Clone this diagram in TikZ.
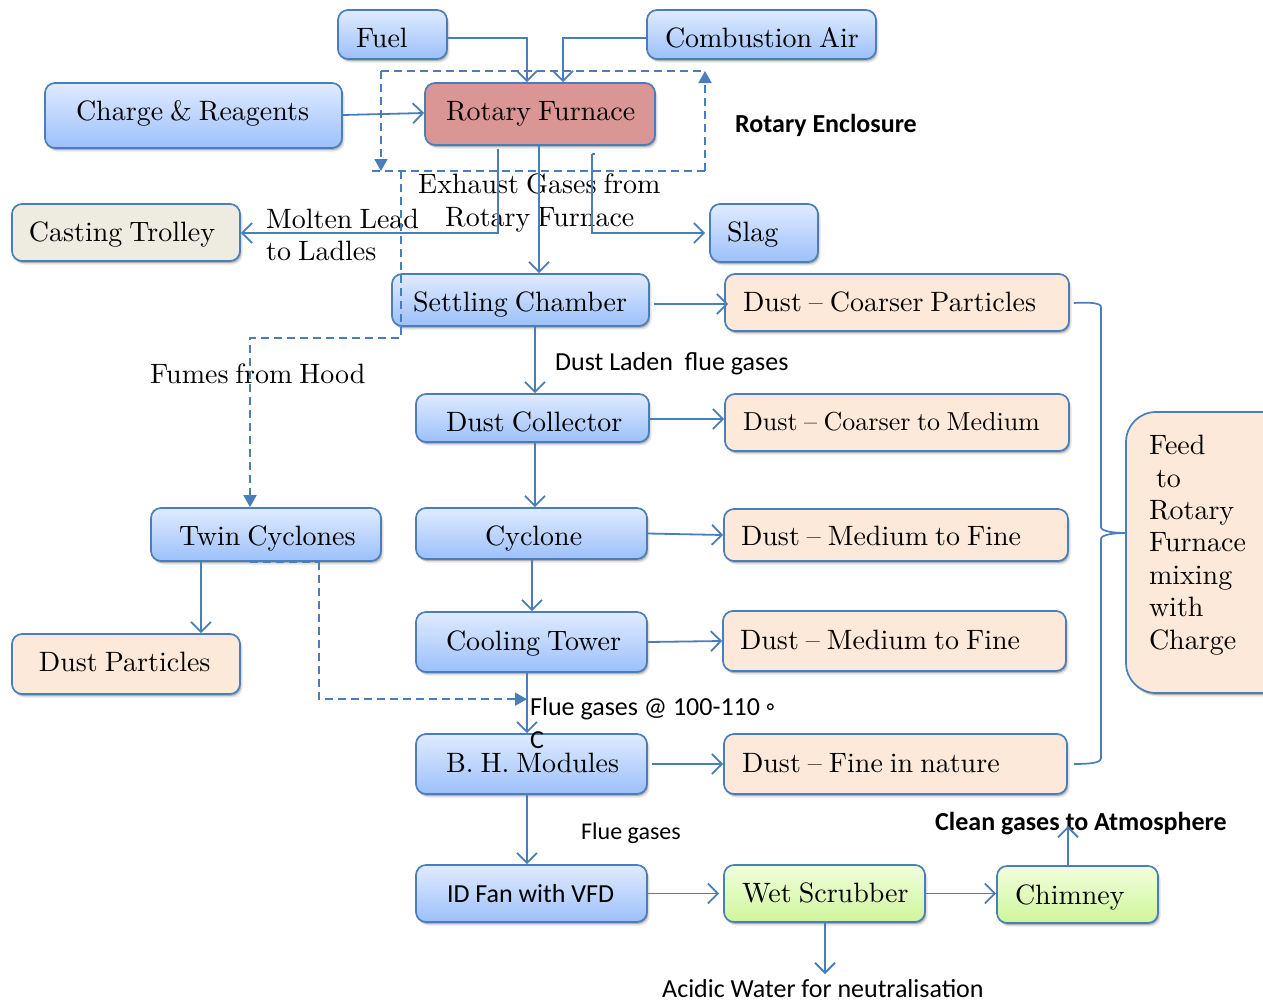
\documentclass[tikz,border=0pt]{standalone}
\usepackage{fontspec}
\setmainfont{lmroman10-regular}[Extension=.otf,WordSpace=0.75]
\newfontfamily\calf{Carlito}
\usetikzlibrary{arrows.meta,shadows}
\definecolor{ln}{HTML}{4A7EBB}
\newcommand\bx[8]{%
  \pgfmathsetmacro\bxW{#5-#3}\pgfmathsetmacro\bxA{#7-#4}\pgfmathsetmacro\bxB{#6-#7}%
  \node[#2,text width=\bxW pt,text height=\bxA pt,text depth=\bxB pt] (#1) at ({(#3+#5)/2},{(#4+#6)/2})%
}
\tikzset{
  x=1pt,y=-1pt,
  boxbase/.style={draw=ln,line width=1.7pt,rounded corners=10pt,inner sep=0pt,align=left,
    drop shadow={shadow xshift=2.5pt,shadow yshift=-3.5pt,fill=black,opacity=.1},
    drop shadow={shadow xshift=1.2pt,shadow yshift=-2pt,fill=black,opacity=.22},
    font=\fontsize{28}{33}\selectfont},
  bluebox/.style={boxbase,top color={rgb,255:red,224;green,235;blue,255},bottom color={rgb,255:red,156;green,192;blue,250}},
  redbox/.style={boxbase,fill={rgb,255:red,217;green,150;blue,148}},
  greybox/.style={boxbase,fill={rgb,255:red,238;green,236;blue,225}},
  peachbox/.style={boxbase,fill={rgb,255:red,253;green,233;blue,217}},
  greenbox/.style={boxbase,top color={rgb,255:red,241;green,255;blue,220},bottom color={rgb,255:red,207;green,245;blue,155}},
  con/.style={draw=ln,line width=1.8pt,-{Straight Barb[length=10pt,width=20pt,line width=1.8pt]}},
  plainln/.style={draw=ln,line width=1.7pt},
  dsh/.style={draw=ln,line width=1.8pt,dash pattern=on 8pt off 5pt},
  dar/.style={dsh,-{Triangle[length=12pt,width=13pt,fill=ln]}},
  lab/.style={anchor=base west,inner sep=0pt,font=\fontsize{28}{33}\selectfont,align=left},
  calt/.style={anchor=base west,inner sep=0pt,font=\calf\fontsize{26}{30}\selectfont},
  calb/.style={anchor=base west,inner sep=0pt,font=\calf\bfseries\fontsize{26}{30}\selectfont},
}
\newcommand\tx[2]{\spaceskip=0pt\relax\xspaceskip=0pt\relax\hspace*{#1pt}\mbox{#2}}
\begin{document}
\begin{tikzpicture}
\useasboundingbox (0,0) rectangle (1263,999);
\clip (0,0) rectangle (1263,999);
\bx{fuel}{bluebox}{338}{10}{447}{59}{47}{} {\tx{18}{Fuel}};
\bx{air}{bluebox}{647}{10}{876}{59}{47}{} {\tx{18}{Combustion Air}};
\bx{charge}{bluebox}{45}{83}{342}{148}{120}{} {\tx{31}{Charge \& Reagents}};
\bx{rf}{redbox}{425}{83}{655}{145}{120}{} {\tx{21}{Rotary Furnace}};
\bx{cast}{greybox}{12}{204}{240}{261}{241}{} {\tx{17}{Casting Trolley}};
\bx{slag}{bluebox}{710}{204}{818}{262}{241}{} {\tx{17}{Slag}};
\bx{settle}{bluebox}{392}{274}{649}{326}{311}{} {\tx{21}{Settling Chamber}};
\bx{d1}{peachbox}{725}{274}{1069}{331}{311}{} {\tx{18}{Dust -- Coarser Particles}};
\bx{coll}{bluebox}{416}{394}{649}{442}{431}{} {\tx{30}{Dust Collector}};
\bx{d2}{peachbox}{725}{394}{1069}{451}{430}{} {\fontsize{26}{30}\selectfont\tx{18}{Dust -- Coarser to Medium}};
\bx{cyc}{bluebox}{416}{508}{647}{559}{545}{} {\tx{69}{Cyclone}};
\bx{d3}{peachbox}{724}{509}{1068}{561}{545}{} {\tx{17}{Dust -- Medium to Fine}};
\bx{twin}{bluebox}{151}{508}{381}{561}{545}{} {\tx{28}{Twin Cyclones}};
\bx{dp}{peachbox}{12}{634}{240}{694}{671}{} {\tx{27}{Dust Particles}};
\bx{cool}{bluebox}{416}{612}{647}{672}{650}{} {\tx{30}{Cooling Tower}};
\bx{d4}{peachbox}{723}{611}{1066}{671}{649}{} {\tx{17}{Dust -- Medium to Fine}};
\bx{bh}{bluebox}{416}{734}{647}{794}{772}{} {\tx{30}{B. H. Modules}};
\bx{d5}{peachbox}{724}{734}{1067}{794}{772}{} {\tx{18}{Dust -- Fine in nature}};
\bx{fan}{bluebox}{416}{865}{647}{922}{902}{} {\tx{31}{\calf\fontsize{26}{30}\selectfont ID Fan with VFD}};
\bx{wet}{greenbox}{724}{865}{925}{922}{902}{} {\tx{18}{Wet Scrubber}};
\bx{chim}{greenbox}{997}{866}{1158}{923}{904}{} {\tx{18}{Chimney}};
\bx{feed}{peachbox,rounded corners=30pt}{1126}{412}{1296}{693}{649}{} {\renewcommand\arraystretch{.98}\tx{23}{\begin{tabular}[b]{@{}l@{}}Feed\\\ to\\Rotary\\Furnace\\mixing\\with\\Charge\end{tabular}}};

\node[lab] (tex1) at (418,193) {Exhaust Gases from};
\node[lab] (tex2) at (445,226) {Rotary Furnace};
\node[lab] (tml1) at (266,228) {Molten Lead};
\node[lab] (tml2) at (266,260) {to Ladles};
\node[lab] (tfh) at (150,383) {Fumes from Hood};
\node[calb] (tre) at (735,132) {Rotary Enclosure};
\node[calt] (tdl) at (555,370) {Dust Laden\ \ flue gases};
\node[calt] (tfg1) at (530,715) {Flue gases @ 100-110 \char"25E6};
\node[calt] (tfg2) at (530,748) {C};
\node[calt,font=\calf\fontsize{24}{30}\selectfont] (tfg3) at (581,839) {Flue gases};
\node[calb] (tcg) at (935,830) {Clean gases to Atmosphere};
\node[calt] (tac) at (662,997) {Acidic Water for neutralisation};

\coordinate (up) at (1068,826);
\coordinate (down) at (825,974);

% enclosure
\coordinate (ea) at (381,71);
\coordinate (eb) at (705,71);
\coordinate (ec) at (705,171);
\coordinate (ed) at (372,171);
\coordinate (ee) at (381,171);
\coordinate (ef) at (401,171);
\coordinate (eg) at (401,338);
\draw[dsh] (ea) -- (eb);
\draw[dar] (ec) -- (eb);
\draw[dar] (ea) -- (ee);
\draw[dsh] (ed) -- (ec);
\draw[dar] (ef) -- (eg) -| ([xshift=-16]twin.north);

\draw[con] ([yshift=-3.5]fuel.east) -| ([xshift=-13]rf.north);
\draw[con] ([yshift=-3.5]air.west) -| ([xshift=23]rf.north);
\draw[con] ([yshift=.5]charge.east) -- ([yshift=1]rf.west);
\draw[con] ([xshift=-1]rf.south) -- ([xshift=18.5]settle.north);
\draw[con] ([xshift=-42,yshift=-3]rf.south) |- ([yshift=-.5]cast.east);
\draw[con] ([xshift=52,yshift=-8]rf.south) |- ([xshift=-4]slag.west);
\draw[plainln] ([xshift=52,yshift=-8]rf.south) -- ++(3,0);
\draw[con] ([xshift=4,yshift=-4]settle.east) -- ([xshift=4,yshift=-1.5]d1.west);
\draw[con] ([xshift=14.5]settle.south) -- ([xshift=2.5]coll.north);
\draw[con] ([yshift=-1]coll.east) -- ([yshift=3.5]d2.west);
\draw[con] (cyc.east) -- (d3.west);
\draw[con] ([xshift=2.5]coll.south) -- ([xshift=3.5]cyc.north);
\draw[con] ([xshift=.5]cyc.south) -- ([xshift=.5]cool.north);
\draw[con] (cool.east) -- (d4.west);
\draw[con] ([xshift=-4.5]cool.south) -- ([xshift=-4.5]bh.north);
\draw[con] ([xshift=-65]twin.south) -- ([xshift=75]dp.north);
\draw[dar] ([xshift=53]twin.south) |- ([xshift=-4.5,yshift=34]bh.north);
\draw[dsh] ([xshift=-16]twin.south) -- ([xshift=53]twin.south);
\draw[con] ([xshift=4]bh.east) -- (d5.west);
\draw[con] ([xshift=-4.5]bh.south) -- ([xshift=-4.5]fan.north);
\draw[con] (fan.east) -- ([xshift=-4]wet.west);
\draw[con] (wet.east) -- (wet.east -| chim.west);
\draw[con] ([xshift=-9.5]chim.north) -- (up);
\draw[con] ([xshift=.5]wet.south) -- (down);

% brace
\coordinate (bj) at (1126,533);
\draw[plainln] ([xshift=4,yshift=-.5]d1.east) .. controls (1090,302) and (1101,303) .. (1101,307) -- (1101,527) .. controls (1101,531) and (1112,533) .. (bj);
\draw[plainln] ([xshift=6]d5.east) .. controls (1090,764) and (1101,763) .. (1101,758) -- (1101,539) .. controls (1101,535) and (1112,533) .. (bj);
\end{tikzpicture}
\end{document}
